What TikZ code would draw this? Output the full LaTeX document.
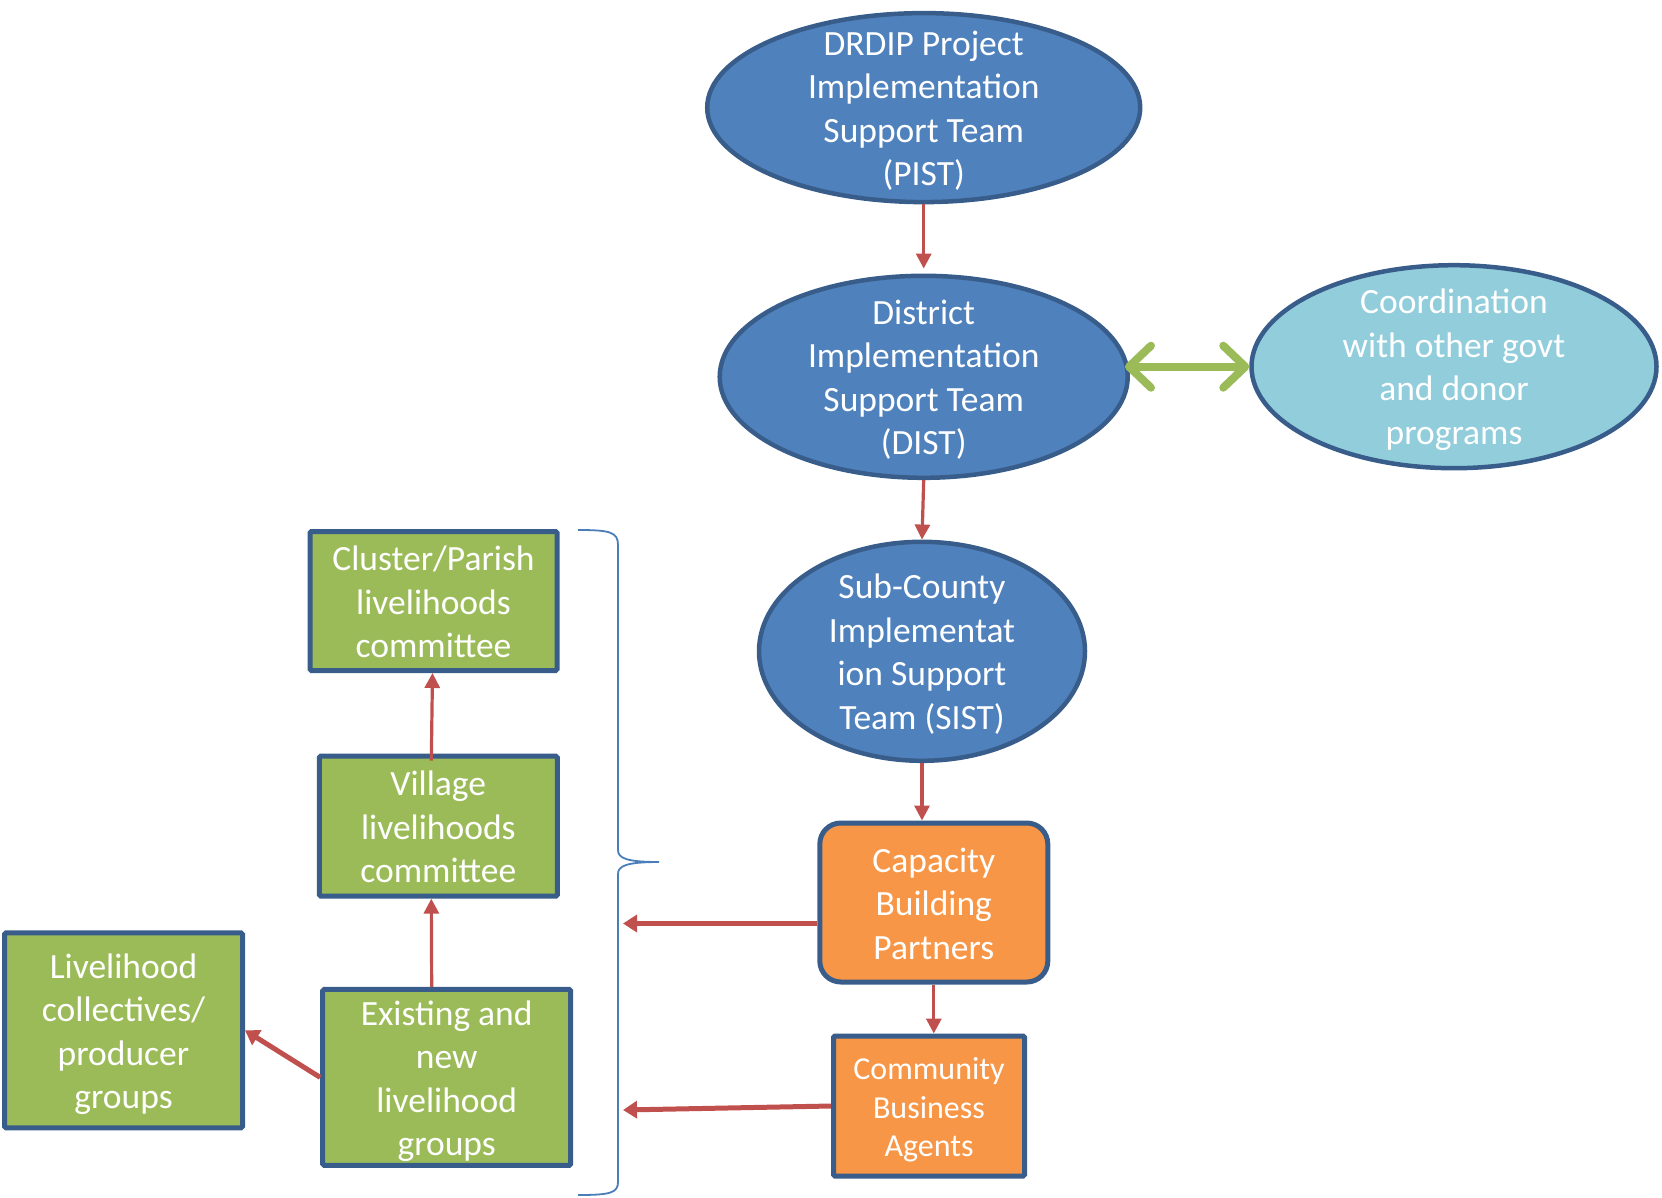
\documentclass[tikz,border=0pt]{standalone}
\usepackage{fontspec}
\setmainfont{Carlito}
\usetikzlibrary{shapes.geometric,arrows.meta,calc}
\definecolor{bfill}{HTML}{4F81BD}
\definecolor{bdraw}{HTML}{385D8A}
\definecolor{lblue}{HTML}{92CDDC}
\definecolor{gfill}{HTML}{9BBB59}
\definecolor{ofill}{HTML}{F79646}
\definecolor{redar}{HTML}{C0504D}
\definecolor{brc}{HTML}{4A7EBB}
\tikzset{
  oval/.style={ellipse, draw=bdraw, line width=4.5pt, fill=bfill, inner sep=0pt},
  lightoval/.style={oval, fill=lblue},
  gbox/.style={rectangle, draw=bdraw, line width=5pt, fill=gfill, inner sep=0pt, rounded corners=1.5pt,
    text=white, align=center, font=\fontsize{35.5}{43.5}\selectfont},
  obox/.style={gbox, fill=ofill},
  txt/.style={text=white, align=center, inner sep=0pt, yshift=-3pt, font=\fontsize{35.5}{43.5}\selectfont},
  thinarr/.style={draw=redar, line width=3.2pt, -{Triangle[length=15pt,width=15pt]}},
  thickarr/.style={draw=redar, line width=5pt, -{Triangle[length=14pt,width=17pt]}},
  greenarr/.style={draw=gfill, line width=8pt, line cap=round,
    {Straight Barb[length=22pt,width=42pt,round]}-{Straight Barb[length=22pt,width=42pt,round]}},
  bracestyle/.style={draw=brc, line width=1.8pt}
}
\begin{document}
\begin{tikzpicture}[x=1pt,y=-1pt]
\useasboundingbox (0,0) rectangle (1662,1197);
% ellipses
\node[oval, minimum width=433, minimum height=189] (pist) at (923.7,107.6) {};
\node[txt] at (pist) {DRDIP Project\\Implementation\\Support Team\\(PIST)};
\node[oval, minimum width=408, minimum height=202] (dist) at (923.7,376.8) {};
\node[txt] at (dist) {District\\Implementation\\Support Team\\(DIST)};
\node[lightoval, minimum width=405, minimum height=203] (coord) at (1454,366.7) {};
\node[txt] at (coord) {Coordination\\with other govt\\and donor\\programs};
\node[oval, minimum width=326, minimum height=219] (sist) at (922,651.3) {};
\node[txt] at (sist) {Sub-County\\Implementat\\ion Support\\Team (SIST)};
% orange boxes
\node[obox, rounded corners=21pt, minimum width=228, minimum height=159] (cbp) at (933.8,902.5) {};
\node[txt, yshift=2pt] at (cbp) {Capacity\\Building\\Partners};
\node[obox, minimum width=191, minimum height=140] (cba) at (929,1106) {};
\node[txt, yshift=-1pt, font=\fontsize{32}{38.7}\selectfont] at (cba) {Community\\Business\\Agents};
% green boxes
\node[gbox, minimum width=247, minimum height=139] (cluster) at (433.5,601) {};
\node[txt, yshift=2pt] at (cluster) {Cluster/Parish\\livelihoods\\committee};
\node[gbox, minimum width=238, minimum height=140] (village) at (438.3,826.2) {};
\node[txt, yshift=2pt] at (village) {Village\\livelihoods\\committee};
\node[gbox, minimum width=248, minimum height=176] (existing) at (446.7,1077.4) {};
\node[txt, yshift=-1pt] at (existing) {Existing and\\new\\livelihood\\groups};
\node[gbox, minimum width=238, minimum height=195] (liveli) at (123.5,1030.3) {};
\node[txt, yshift=-1pt] at (liveli) {Livelihood\\collectives/\\producer\\groups};
% brace
\draw[bracestyle] (578,530) .. controls (610,530) and (618,532) .. (618,545) -- (618,850)
  .. controls (618,858) and (626,862) .. (659,862)
  .. controls (626,862) and (618,866) .. (618,874) -- (618,1182)
  .. controls (618,1193) and (610,1195) .. (578,1195);
\coordinate (b1) at (623,923.5);
\coordinate (b2) at (623,1110);
\coordinate (g1) at (1125,366.7);
% connectors
\draw[thinarr] (pist.south) -- ($(dist.north)+(0,-5)$);
\draw[thinarr] (dist.south) -- (sist.north);
\draw[thinarr] (sist.south) -- (sist.south |- cbp.north);
\draw[thinarr] (cbp.south) -- (cbp.south |- cba.north);
\draw[thickarr] ($(cbp.west)+(0,21)$) -- (b1);
\draw[thickarr] (cba.west) -- (b2);
\draw[thinarr] ($(existing.north)+(-15,0)$) -- ($(village.south)+(-7,0)$);
\draw[thinarr] ($(village.north)+(-7,7)$) -- ($(cluster.south)+(-1,0)$);
\draw[thickarr] (existing.west) -- (liveli.east);
\draw[greenarr] (g1) -- (coord.west);
\end{tikzpicture}
\end{document}
